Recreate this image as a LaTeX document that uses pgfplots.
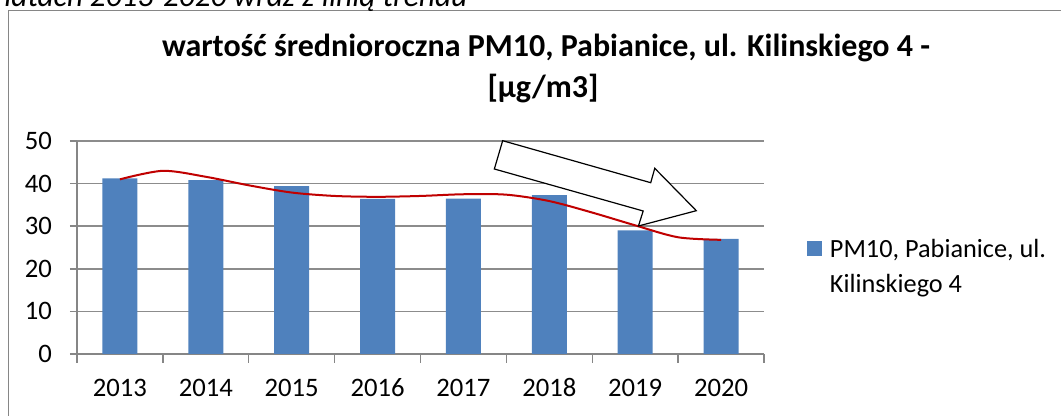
\documentclass[border=0pt]{standalone}
\usepackage{fontspec}
\setmainfont{Carlito}
\usepackage{pgfplots}
\pgfplotsset{compat=1.18}
\definecolor{barblue}{HTML}{4F81BD}
\definecolor{trendred}{HTML}{C00000}
\definecolor{axgray}{HTML}{868686}
\definecolor{gridgray}{HTML}{8C8C8C}
\begin{document}
\begin{tikzpicture}
\path[use as bounding box] (0pt,0pt) rectangle (795.75pt,-312pt);
% page furniture, in pixel units of the reference (y downwards)
\begin{scope}[x=0.75pt,y=-0.75pt]
\clip (0,0) rectangle (1061,416);
\draw[axgray, line width=1.1pt] (8.5,440) -- (8.5,10.5) -- (1090,10.5);
\node[anchor=base west, inner sep=0, font=\fontsize{23.5}{28}\selectfont\itshape]
  at (4,6.5) {latach 2013-2020 wraz z linią trendu};
\node[anchor=base, inner sep=0, font=\fontsize{24}{28}\selectfont\bfseries]
  at (546,57) {wartość średnioroczna PM10, Pabianice, ul. Kilinskiego 4 -};
\node[anchor=base, inner sep=0, font=\fontsize{24}{28}\selectfont\bfseries]
  at (543,98) {[µg/m3]};
\end{scope}

\begin{axis}[
    at={(57.75pt,-265.5pt)}, anchor=south west,
    scale only axis, width=515.25pt, height=159.75pt,
    xmin=-0.5, xmax=7.5, ymin=0, ymax=50,
    clip=false,
    ytick={0,10,...,50},
    xtick={0,...,7},
    xticklabels={2013,2014,2015,2016,2017,2018,2019,2020},
    minor xtick={-0.5,0.5,...,7.5},
    major x tick style={draw=none},
    tick align=outside,
    major tick length=5.25pt,
    minor tick length=6.75pt,
    every tick/.style={axgray, line width=1.1pt},
    axis x line*=bottom, axis y line*=left,
    axis line style={axgray, line width=1.1pt, -},
    ymajorgrids,
    major grid style={gridgray, line width=1.1pt},
    ticklabel style={font=\fontsize{20}{24}\selectfont},
    /pgf/number format/assume math mode=true,
    xticklabel style={text height=14pt, text depth=0pt, yshift=-9pt},
    yticklabel style={xshift=-10pt},
    legend style={draw=none, fill=none, at={(1.0626,0.554)}, anchor=north west,
        inner sep=0pt, font=\fontsize{19.7}{26.25}\selectfont,
        cells={align=left}},
    legend cell align=left,
]
\addplot[ybar, bar width=0.407, fill=barblue, draw=none,
    legend image code/.code={
        \fill[barblue] (0pt,7.9pt) rectangle (11.25pt,19.1pt);
        \path (15pt,7.9pt);}]
coordinates {
    (0,41.2) (1,40.8) (2,39.4) (3,36.4) (4,36.5) (5,37.3) (6,29.0) (7,27.0)
};
\addlegendentry{PM10, Pabianice, ul.\\Kilinskiego 4}

% trend line
\addplot[trendred, line width=1.5pt, smooth, forget plot] coordinates {
    (0,41.0) (0.5,43.0) (1,41.6) (1.5,39.6) (2,37.9) (2.5,37.1) (3,36.9)
    (3.5,37.1) (4,37.5) (4.5,37.4) (5,35.9) (5.5,33.2) (6,30.2) (6.5,27.4) (7,26.8)
};

\draw[black, line width=0.9pt, fill=white]
    (axis cs:4.457,50.07) -- (axis cs:6.181,40.21) -- (axis cs:6.228,43.59)
    -- (axis cs:6.712,33.64) -- (axis cs:6.038,30.05) -- (axis cs:6.093,33.57)
    -- (axis cs:4.360,43.43) -- cycle;
\end{axis}
\end{tikzpicture}
\end{document}
